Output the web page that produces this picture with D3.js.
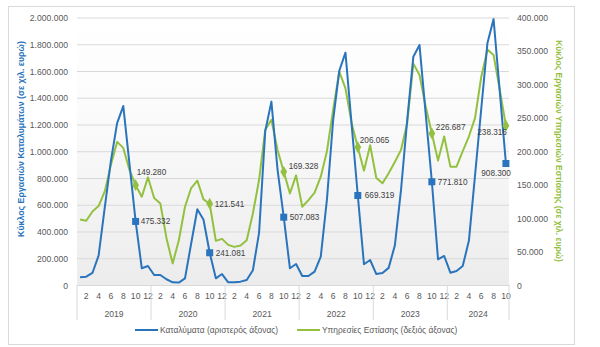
<!DOCTYPE html>
<html><head><meta charset="utf-8">
<script src="https://cdn.jsdelivr.net/npm/d3@7"></script>
<style>
body{margin:0;background:#fff;}
svg{display:block;font-family:"Liberation Sans",Arial,sans-serif;}
</style>
</head><body>
<svg id="chart" width="600" height="347"></svg>
<script>
// ---------- DATA ----------
const years = ["2019","2020","2021","2022","2023","2024"];
const monthsPerYear = [12,12,12,12,12,10];
const accommodation = [
  58000, 62000, 90000, 220000, 580000, 930000, 1210000, 1338000, 905000, 475332, 125000, 142000,
  75000, 75000, 43000, 20000, 18000, 50000, 310000, 566000, 488000, 241081, 50000, 82000,
  20000, 20000, 25000, 37000, 110000, 390000, 1150000, 1371000, 860000, 507083, 125000, 157000,
  67000, 67000, 100000, 212000, 640000, 1230000, 1602000, 1737000, 1200000, 669319, 155000, 187000,
  82000, 90000, 128000, 295000, 710000, 1230000, 1707000, 1794000, 1280000, 771810, 192000, 217000,
  92000, 105000, 142000, 330000, 822000, 1316000, 1807000, 1988000, 1450000, 908300
];
const foodService = [
  98000, 96000, 110000, 118000, 140000, 180000, 214000, 205000, 172000, 149280, 132000, 161000,
  130000, 122000, 70000, 32000, 67000, 117000, 145000, 156000, 128000, 121541, 66000, 69000,
  60000, 57000, 59000, 67000, 107000, 157000, 232000, 247000, 202000, 169328, 137000, 164000,
  117000, 127000, 138000, 162000, 200000, 262000, 319000, 294000, 242000, 206065, 171000, 209000,
  160000, 152000, 167000, 184000, 202000, 242000, 331000, 314000, 267000, 226687, 186000, 222000,
  177000, 177000, 200000, 222000, 250000, 311000, 352000, 344000, 292000, 238316
];
const leftTicks = [0,200000,400000,600000,800000,1000000,1200000,1400000,1600000,1800000,2000000];
const rightTicks = [0,50000,100000,150000,200000,250000,300000,350000,400000];
const labelledMonth = 10;
const seriesNames = ["Καταλύματα (αριστερός άξονας)", "Υπηρεσίες Εστίασης (δεξιός άξονας)"];
const axisTitles = ["Κύκλος Εργασιών Καταλυμάτων (σε χιλ. ευρώ)", "Κύκλος Εργασιών Υπηρεσιών Εστίασης (σε χιλ. ευρώ)"];

// ---------- STYLE / LAYOUT ----------
const BLUE = "#2a74bd", GREEN = "#93c13f", TXT = "#595959", GRID = "#d9d9d9";
const M = {left:77, right:509, top:17.5, bottom:285};
const svg = d3.select("#chart");
const loc = d3.formatLocale({decimal:",", thousands:".", grouping:[3], currency:["","€"]});
const fmt = loc.format(",d");

// month index info
const months = [];
years.forEach((y,yi)=>{ for(let m=1;m<=monthsPerYear[yi];m++) months.push({year:y, m}); });
const idx = months.map((d,i)=>i);

const x = d3.scaleBand().domain(idx).range([M.left, M.right]);
const cx = i => x(i) + x.bandwidth()/2;
const yL = d3.scaleLinear().domain([0, 2000000]).range([M.bottom, M.top]);
const yR = d3.scaleLinear().domain([0, 400000]).range([M.bottom, M.top]);

// outer border
svg.append("rect").attr("x",8.5).attr("y",6.5).attr("width",566).attr("height",338)
  .attr("fill","#fff").attr("stroke","#d9d9d9");

// plot background gradient
const defs = svg.append("defs");
const grad = defs.append("linearGradient").attr("id","bg").attr("x1",0).attr("y1",0).attr("x2",0).attr("y2",1);
grad.append("stop").attr("offset","0%").attr("stop-color","#ffffff");
grad.append("stop").attr("offset","35%").attr("stop-color","#fbfbfb");
grad.append("stop").attr("offset","100%").attr("stop-color","#ececec");
svg.append("rect").attr("x",M.left).attr("y",M.top).attr("width",M.right-M.left).attr("height",M.bottom-M.top)
  .attr("fill","url(#bg)");

// gridlines via left axis
const gridAxis = svg.append("g").attr("transform",`translate(${M.left},0)`)
  .call(d3.axisLeft(yL).tickValues(leftTicks).tickSize(-(M.right-M.left)).tickFormat(""));
gridAxis.select(".domain").remove();
gridAxis.selectAll("line").attr("stroke",GRID).attr("stroke-width",1);

// left tick labels
const la = svg.append("g").attr("transform",`translate(68,0)`)
  .call(d3.axisLeft(yL).tickValues(leftTicks).tickSize(0).tickPadding(0).tickFormat(d=>fmt(d)));
la.select(".domain").remove();
la.selectAll("text").attr("fill",TXT).style("font-size","8.6px").attr("dy","0.35em");

// right tick labels
const ra = svg.append("g").attr("transform",`translate(517,0)`)
  .call(d3.axisRight(yR).tickValues(rightTicks).tickSize(0).tickPadding(0).tickFormat(d=>fmt(d)));
ra.select(".domain").remove();
ra.selectAll("text").attr("fill",TXT).style("font-size","8.6px").attr("dy","0.35em");

// x axis: month labels
const xa = svg.append("g").attr("transform",`translate(0,${M.bottom})`)
  .call(d3.axisBottom(x).tickValues(idx.filter(i=>months[i].m%2===0)).tickSize(0).tickPadding(8)
    .tickFormat(i=>months[i].m));
xa.select(".domain").attr("stroke",GRID);
xa.selectAll("text").attr("fill",TXT).style("font-size","8.6px");

// year separators and labels
let start = 0;
const bounds = [];
years.forEach((y,yi)=>{ bounds.push([start, start+monthsPerYear[yi]-1]); start += monthsPerYear[yi]; });
const sepX = [M.left].concat(bounds.map(b=> x(b[1]) + x.bandwidth()));
svg.append("g").selectAll("line").data(sepX).join("line")
  .attr("x1",d=>d).attr("x2",d=>d).attr("y1",M.bottom).attr("y2",320)
  .attr("stroke",GRID);
svg.append("g").selectAll("text").data(years).join("text")
  .attr("x",(d,i)=> (x(bounds[i][0]) + x(bounds[i][1]) + x.bandwidth())/2)
  .attr("y",314).attr("dy","0.35em").attr("text-anchor","middle")
  .attr("fill",TXT).style("font-size","8.6px").text(d=>d);

// lines
const lineL = d3.line().x((d,i)=>cx(i)).y(d=>yL(d));
const lineR = d3.line().x((d,i)=>cx(i)).y(d=>yR(d));
svg.append("path").datum(foodService).attr("d",lineR).attr("fill","none")
  .attr("stroke",GREEN).attr("stroke-width",2).attr("stroke-linejoin","round");
svg.append("path").datum(accommodation).attr("d",lineL).attr("fill","none")
  .attr("stroke",BLUE).attr("stroke-width",2).attr("stroke-linejoin","round");

// markers + labels at October points
const labIdx = idx.filter(i=>months[i].m===labelledMonth);
// placement offsets per year (styling only)
const blueOff = [[5,0,"start"],[6,0,"start"],[6,0,"start"],[7,0,"start"],[6,0,"start"],[5,10,"end"]];
const greenOff = [[1,-13,"start"],[5,0,"start"],[5,-6,"start"],[2,-7,"start"],[4,-6,"start"],[1,7,"end"]];

svg.append("g").selectAll("path").data(labIdx).join("path")
  .attr("d",d3.symbol(d3.symbolDiamond, 40))
  .attr("transform",i=>`translate(${cx(i)},${yR(foodService[i])})`)
  .attr("fill",GREEN);
svg.append("g").selectAll("rect").data(labIdx).join("rect")
  .attr("x",i=>cx(i)-3.5).attr("y",i=>yL(accommodation[i])-3.5).attr("width",7).attr("height",7)
  .attr("fill",BLUE);

svg.append("g").selectAll("text").data(labIdx).join("text")
  .attr("x",(i,k)=>cx(i)+greenOff[k][0]).attr("y",(i,k)=>yR(foodService[i])+greenOff[k][1])
  .attr("dy","0.35em").attr("text-anchor",(i,k)=>greenOff[k][2])
  .attr("fill","#404040").style("font-size","8.2px").text(i=>fmt(foodService[i]));
svg.append("g").selectAll("text").data(labIdx).join("text")
  .attr("x",(i,k)=>cx(i)+blueOff[k][0]).attr("y",(i,k)=>yL(accommodation[i])+blueOff[k][1])
  .attr("dy","0.35em").attr("text-anchor",(i,k)=>blueOff[k][2])
  .attr("fill","#404040").style("font-size","8.2px").text(i=>fmt(accommodation[i]));

// legend
const leg = svg.append("g");
[[135,BLUE,seriesNames[0]],[297,GREEN,seriesNames[1]]].forEach(([lx,c,t])=>{
  leg.append("line").attr("x1",lx).attr("x2",lx+23).attr("y1",330).attr("y2",330)
    .attr("stroke",c).attr("stroke-width",2);
  leg.append("text").attr("x",lx+25).attr("y",330).attr("dy","0.35em")
    .attr("fill",TXT).style("font-size","8.4px").text(t);
});

// axis titles
function fitText(sel, target){
  const L = sel.node().getComputedTextLength();
  const fs = parseFloat(sel.style("font-size"));
  sel.style("font-size", (fs*target/L).toFixed(2)+"px");
}
const tl = svg.append("text").attr("transform","translate(21,139) rotate(-90)")
  .attr("text-anchor","middle").attr("dy","0.35em").attr("fill",BLUE)
  .style("font-weight","bold").style("font-size","9px").text(axisTitles[0]);
fitText(tl,196);
const tr = svg.append("text").attr("transform","translate(559,151) rotate(90)")
  .attr("text-anchor","middle").attr("dy","0.35em").attr("fill",GREEN)
  .style("font-weight","bold").style("font-size","9px").text(axisTitles[1]);
fitText(tr,222);
</script>
</body></html>
